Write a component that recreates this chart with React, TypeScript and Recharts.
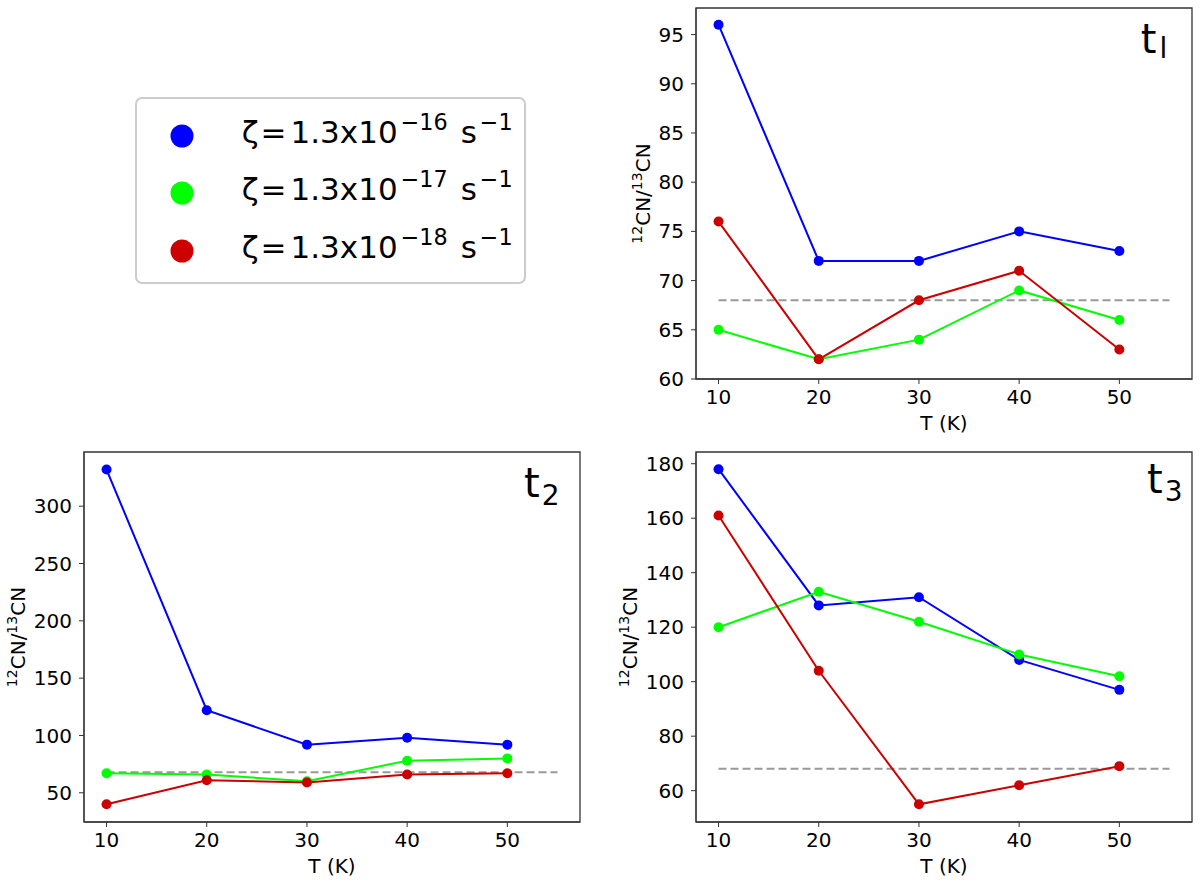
import React from 'react';
import { LineChart, Line, XAxis, YAxis, ReferenceLine, ReferenceArea } from 'recharts';

// temperatures (K) shared by every panel
const temps = [10, 20, 30, 40, 50];
const xTicks = [10, 20, 30, 40, 50];
const xDomain = [7.75, 57.25];

// t_l panel
const t1Blue = [96, 72, 72, 75, 73];
const t1Green = [65, 62, 64, 69, 66];
const t1Red = [76, 62, 68, 71, 63];
const t1Ticks = [60, 65, 70, 75, 80, 85, 90, 95];

// t_2 panel
const t2Blue = [332, 122, 92, 98, 92];
const t2Green = [67, 66, 60, 78, 80];
const t2Red = [40, 61, 59, 66, 67];
const t2Ticks = [50, 100, 150, 200, 250, 300];

// t_3 panel
const t3Blue = [178, 128, 131, 108, 97];
const t3Green = [120, 133, 122, 110, 102];
const t3Red = [161, 104, 55, 62, 69];
const t3Ticks = [60, 80, 100, 120, 140, 160, 180];

// reference ratio (dashed line)
const refRatio = 68;
const refFrom = 10;
const refTo = 55;

const legendExponents = ['\u221216', '\u221217', '\u221218'];
const colors = { blue: '#0000ff', green: '#00ff00', red: '#cc0000' };

const font = 'DejaVu Sans, sans-serif';
const tickStyle = { fontSize: 20, fill: '#000', fontFamily: font };

const XLabel = (props: any) => {
  const vb = props.viewBox || {};
  return (
    <text x={vb.x + vb.width / 2} y={vb.y + 51} textAnchor="middle" fontSize={20} fontFamily={font} fill="#000">
      T (K)
    </text>
  );
};

const makeYLabel = (offset: number) => (props: any) => {
  const vb = props.viewBox || {};
  const x = vb.x + vb.width - offset;
  const y = vb.y + vb.height / 2;
  return (
    <text x={x} y={y} transform={`rotate(-90 ${x} ${y})`} textAnchor="middle" fontSize={20} fontFamily={font} fill="#000">
      <tspan fontSize={14} dy={-8}>12</tspan>
      <tspan dy={8}>CN/</tspan>
      <tspan fontSize={14} dy={-8}>13</tspan>
      <tspan dy={8}>CN</tspan>
    </text>
  );
};

type PanelProps = {
  left: number;
  top: number;
  width: number;
  height: number;
  axisW: number;
  mTop: number;
  mRight: number;
  mBottom: number;
  blue: number[];
  green: number[];
  red: number[];
  yDomain: number[];
  yTicks: number[];
  labelOffset: number;
};

const Panel = ({ left, top, width, height, axisW, mTop, mRight, mBottom, blue, green, red, yDomain, yTicks, labelOffset }: PanelProps) => {
  const data = temps.map((t, i) => ({ T: t, blue: blue[i], green: green[i], red: red[i] }));
  return (
    <div style={{ position: 'absolute', left, top }}>
      <LineChart width={width} height={height} data={data} margin={{ top: mTop, right: mRight, bottom: mBottom, left: 0 }}>
        <XAxis
          type="number"
          dataKey="T"
          domain={xDomain}
          ticks={xTicks}
          interval={0}
          allowDataOverflow
          height={50}
          tickSize={5}
          tickMargin={6}
          tick={tickStyle}
          stroke="#333"
          label={XLabel}
        />
        <YAxis
          type="number"
          domain={yDomain}
          ticks={yTicks}
          interval={0}
          allowDataOverflow
          width={axisW}
          tickSize={5}
          tickMargin={7}
          tick={tickStyle}
          stroke="#333"
          label={makeYLabel(labelOffset)}
        />
        <ReferenceArea x1={xDomain[0]} x2={xDomain[1]} y1={yDomain[0]} y2={yDomain[1]} fill="none" fillOpacity={0} stroke="#333" strokeWidth={1.3} />
        <ReferenceLine
          segment={[{ x: refFrom, y: refRatio }, { x: refTo, y: refRatio }]}
          stroke="#999"
          strokeWidth={2}
          strokeDasharray="8 4"
        />
        {(['blue', 'green', 'red'] as const).map((k) => (
          <Line
            key={k}
            type="linear"
            dataKey={k}
            stroke={colors[k]}
            strokeWidth={2}
            dot={{ r: 5, fill: colors[k], stroke: colors[k], strokeWidth: 0 }}
            activeDot={false}
            isAnimationActive={false}
          />
        ))}
      </LineChart>
    </div>
  );
};

const App = () => {
  const rows = [136, 193, 251];
  return (
    <div style={{ position: 'absolute', left: 0, top: 0, width: 1200, height: 883, background: '#fff', fontFamily: font }}>
      <Panel left={600} top={0} width={600} height={440} axisW={96} mTop={8} mRight={8} mBottom={11}
        blue={t1Blue} green={t1Green} red={t1Red} yDomain={[60, 97.7]} yTicks={t1Ticks} labelOffset={46} />
      <Panel left={0} top={440} width={600} height={443} axisW={84} mTop={12} mRight={20} mBottom={11}
        blue={t2Blue} green={t2Green} red={t2Red} yDomain={[24.5, 347.3]} yTicks={t2Ticks} labelOffset={59} />
      <Panel left={600} top={440} width={600} height={443} axisW={96} mTop={12} mRight={8} mBottom={11}
        blue={t3Blue} green={t3Green} red={t3Red} yDomain={[48.5, 184.3]} yTicks={t3Ticks} labelOffset={59.5} />

      <svg width={1200} height={883} style={{ position: 'absolute', left: 0, top: 0, pointerEvents: 'none' }} fontFamily={font}>
        <rect x={136} y={98} width={389} height={185} rx={6} fill="#fff" stroke="#ccc" strokeWidth={2} />
        {legendExponents.map((e, i) => (
          <g key={e}>
            <circle cx={182} cy={rows[i]} r={11.5} fill={[colors.blue, colors.green, colors.red][i]} />
            <text x={241.7} y={rows[i] + 7} fontSize={31} fill="#000">
              <tspan>{'\u03b6'}</tspan>
              <tspan dx={2}>=</tspan>
              <tspan dx={4}>1.3x10</tspan>
              <tspan fontSize={22.3} dx={3} dy={-13}>{e}</tspan>
              <tspan dx={13} dy={13}>s</tspan>
              <tspan fontSize={22.3} dx={3} dy={-13}>{'\u22121'}</tspan>
            </text>
          </g>
        ))}
        <text x={1140.7} y={52.7} fontSize={40} fill="#000">
          t<tspan fontSize={28} dx={3} dy={5}>l</tspan>
        </text>
        <text x={524} y={496.7} fontSize={40} fill="#000">
          t<tspan fontSize={28} dx={2} dy={8}>2</tspan>
        </text>
        <text x={1147} y={493.3} fontSize={40} fill="#000">
          t<tspan fontSize={28} dx={2} dy={7.5}>3</tspan>
        </text>
      </svg>
    </div>
  );
};

export default App;
